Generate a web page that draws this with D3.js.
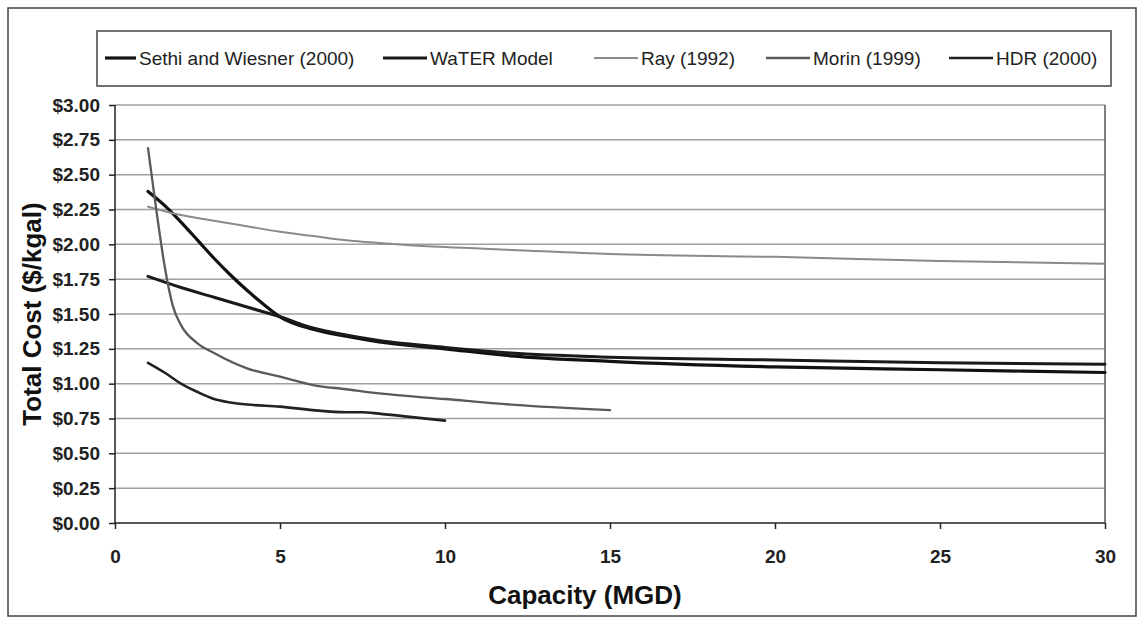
<!DOCTYPE html>
<html>
<head>
<meta charset="utf-8">
<script src="https://cdn.jsdelivr.net/npm/d3@7"></script>
<style>
  body { margin: 0; background: #fff; }
  svg { display: block; font-family: "Liberation Sans", Arial, sans-serif; }
  .grid line { stroke: #a0a0a0; stroke-width: 1.5; }
  .axis path, .axis line { stroke: #222; stroke-width: 1.5; }
  .axis text { font-size: 19px; font-weight: bold; fill: #222; }
</style>
</head>
<body>
<svg width="1144" height="620"></svg>
<script>
// series values
const seriesNames = ["Sethi and Wiesner (2000)", "WaTER Model", "Ray (1992)", "Morin (1999)", "HDR (2000)"];

const sethiX = [1, 1.5, 2, 2.5, 3, 3.5, 4, 4.5, 5, 6, 7, 8, 10, 12, 15, 20, 25, 30];
const sethiY = [2.38, 2.28, 2.16, 2.03, 1.90, 1.78, 1.67, 1.57, 1.48, 1.39, 1.34, 1.30, 1.25, 1.20, 1.16, 1.12, 1.10, 1.08];

const waterX = [1, 2, 3, 4, 5, 6, 7, 8, 10, 12, 15, 20, 25, 30];
const waterY = [1.77, 1.69, 1.62, 1.55, 1.48, 1.40, 1.35, 1.31, 1.26, 1.22, 1.19, 1.17, 1.15, 1.14];

const rayX = [1, 2, 3, 4, 5, 6, 7, 8, 10, 12, 15, 20, 25, 30];
const rayY = [2.27, 2.21, 2.17, 2.13, 2.09, 2.06, 2.03, 2.01, 1.98, 1.96, 1.93, 1.91, 1.88, 1.86];

const morinX = [1, 1.25, 1.5, 1.75, 2, 2.5, 3, 4, 5, 6, 7, 8, 10, 12, 15];
const morinY = [2.69, 2.25, 1.85, 1.56, 1.42, 1.29, 1.22, 1.11, 1.05, 0.99, 0.96, 0.93, 0.89, 0.85, 0.81];

const hdrX = [1, 1.5, 2, 2.5, 3, 3.5, 4, 5, 6, 7, 7.5, 8, 9, 10];
const hdrY = [1.15, 1.08, 1.00, 0.94, 0.89, 0.865, 0.85, 0.835, 0.81, 0.795, 0.795, 0.785, 0.76, 0.735];

const xTicks = [0, 5, 10, 15, 20, 25, 30];
const yTicks = [0, 0.25, 0.5, 0.75, 1, 1.25, 1.5, 1.75, 2, 2.25, 2.5, 2.75, 3];

const xTitle = "Capacity (MGD)";
const yTitle = "Total Cost ($/kgal)";

// styles per series, same order as names
const lineColors = ["#111", "#1a1a1a", "#8a8a8a", "#5a5a5a", "#222"];
const lineWidths = [3.2, 3, 2, 2.3, 2.6];

const seriesData = [
  sethiX.map((x, i) => ({ x: x, y: sethiY[i] })),
  waterX.map((x, i) => ({ x: x, y: waterY[i] })),
  rayX.map((x, i) => ({ x: x, y: rayY[i] })),
  morinX.map((x, i) => ({ x: x, y: morinY[i] })),
  hdrX.map((x, i) => ({ x: x, y: hdrY[i] }))
];

const plotLeft = 115;
const plotRight = 1105;
const plotTop = 105;
const plotBottom = 523;

const svg = d3.select("svg");

// outer border of the chart
svg.append("rect")
  .attr("x", 8).attr("y", 8)
  .attr("width", 1128).attr("height", 608)
  .attr("fill", "none")
  .attr("stroke", "#444")
  .attr("stroke-width", 1.5);

const xScale = d3.scaleLinear().domain([0, 30]).range([plotLeft, plotRight]);
const yScale = d3.scaleLinear().domain([0, 3]).range([plotBottom, plotTop]);

// horizontal gridlines
svg.append("g")
  .attr("class", "grid")
  .selectAll("line")
  .data(yTicks.filter(d => d > 0))
  .enter()
  .append("line")
  .attr("x1", plotLeft)
  .attr("x2", plotRight)
  .attr("y1", d => yScale(d))
  .attr("y2", d => yScale(d));

// right edge of plot area
svg.append("line")
  .attr("x1", plotRight).attr("x2", plotRight)
  .attr("y1", plotTop).attr("y2", plotBottom)
  .attr("stroke", "#555")
  .attr("stroke-width", 1.5);

const xAxis = d3.axisBottom(xScale)
  .tickValues(xTicks)
  .tickSize(6)
  .tickPadding(21)
  .tickFormat(d3.format("d"));
svg.append("g")
  .attr("class", "axis")
  .attr("transform", `translate(0,${plotBottom})`)
  .call(xAxis)
  .call(g => g.select(".domain").attr("d", `M${plotLeft},0H${plotRight}`));

const yAxis = d3.axisLeft(yScale)
  .tickValues(yTicks)
  .tickSize(6)
  .tickPadding(9)
  .tickFormat(d => "$" + d.toFixed(2));
svg.append("g")
  .attr("class", "axis")
  .attr("transform", `translate(${plotLeft},0)`)
  .call(yAxis)
  .call(g => g.select(".domain").attr("d", `M0,${plotTop}V${plotBottom}`));

// the curves
const line = d3.line()
  .curve(d3.curveMonotoneX)
  .x(d => xScale(d.x))
  .y(d => yScale(d.y));

svg.append("g")
  .selectAll("path")
  .data(seriesData)
  .enter()
  .append("path")
  .attr("d", line)
  .attr("fill", "none")
  .attr("stroke", (d, i) => lineColors[i])
  .attr("stroke-width", (d, i) => lineWidths[i])
  .attr("stroke-linejoin", "round")
  .attr("stroke-linecap", "round");

// axis titles
svg.append("text")
  .attr("x", 585)
  .attr("y", 595)
  .attr("dy", "0.35em")
  .style("text-anchor", "middle")
  .style("font-size", "26px")
  .style("font-weight", "bold")
  .attr("fill", "#111")
  .text(xTitle);

svg.append("text")
  .attr("transform", `translate(32,${(plotTop + plotBottom) / 2}) rotate(-90)`)
  .attr("dy", "0.35em")
  .style("text-anchor", "middle")
  .style("font-size", "26px")
  .style("font-weight", "bold")
  .attr("fill", "#111")
  .text(yTitle);

// legend: each entry's text starts 3px after its line sample
const legendTextX = [139, 430, 641, 813, 996];
const legend = svg.append("g");
legend.append("rect")
  .attr("x", 97).attr("y", 31)
  .attr("width", 1014).attr("height", 55)
  .attr("fill", "#fff")
  .attr("stroke", "#444")
  .attr("stroke-width", 1.5);

const items = legend.selectAll(".item")
  .data(seriesNames)
  .enter()
  .append("g")
  .attr("transform", (d, i) => `translate(${legendTextX[i]},58)`);
items.append("line")
  .attr("x1", (d, i) => i == 0 ? -34 : -47)
  .attr("x2", -3)
  .attr("stroke", (d, i) => lineColors[i])
  .attr("stroke-width", (d, i) => lineWidths[i]);
items.append("text")
  .attr("dy", "0.35em")
  .style("font-size", "19px")
  .attr("fill", "#222")
  .text(d => d);
</script>
</body>
</html>
